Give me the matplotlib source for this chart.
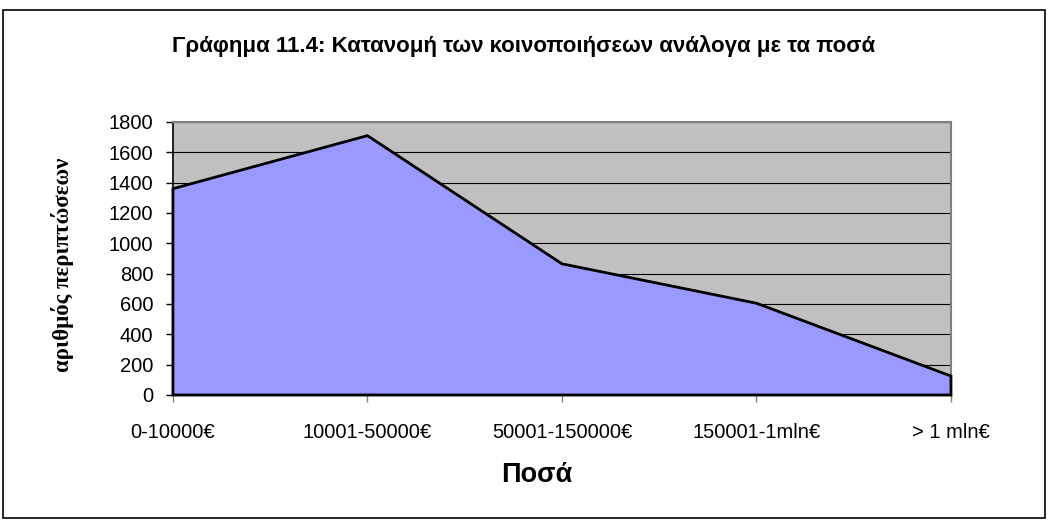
import numpy as np
import matplotlib.pyplot as plt
from matplotlib.patches import Rectangle

categories = ['0-10000€', '10001-50000€', '50001-150000€', '150001-1mln€', '> 1 mln€']
cases = [1360, 1710, 865, 605, 125]
y_ticks = [0, 200, 400, 600, 800, 1000, 1200, 1400, 1600, 1800]

title = 'Γράφημα 11.4: Κατανομή των κοινοποιήσεων ανάλογα με τα ποσά'

plt.rcParams['font.family'] = ['Liberation Sans', 'DejaVu Sans']

fig = plt.figure(figsize=(10.48, 5.2), dpi=100)
ax = fig.add_axes([0.165, 0.2404, 0.7424, 0.525])

x = np.arange(len(categories))
ax.set_facecolor('#C0C0C0')

# area with black outline (closed down to zero like Excel)
px = np.concatenate([[x[0]], x, [x[-1]]])
py = np.concatenate([[0], cases, [0]])
ax.fill(px, py, facecolor='#9999FF', edgecolor='black', linewidth=2.0,
        joinstyle='miter', zorder=3, clip_on=False)

ax.set_xlim(x[0], x[-1])
ax.set_ylim(0, 1800)
ax.set_yticks(y_ticks)
ax.set_xticks(x)
ax.set_xticklabels(categories)
ax.yaxis.grid(True, color='black', linewidth=0.8, zorder=1)
ax.set_axisbelow(True)

for side in ['top', 'right']:
    ax.spines[side].set_color('#808080')
    ax.spines[side].set_linewidth(1.5)
ax.spines['left'].set_color('black')
ax.spines['left'].set_linewidth(1.2)
ax.spines['bottom'].set_color('black')

ax.tick_params(axis='y', direction='out', length=5, width=1, labelsize=14.5, pad=9)
ax.tick_params(axis='x', direction='out', length=5, width=1, color='#808080',
               labelsize=14.5, pad=15)

# axis titles placed like the Excel chart
fig.text(62 / 1048, 0.49, 'αριθμός περιπτώσεων', rotation=90, ha='center', va='center',
         family=['Liberation Serif', 'DejaVu Serif'], fontweight='bold', fontsize=16.5)
fig.text(537 / 1048, (520 - 475) / 520, 'Ποσά', ha='center', va='center',
         fontweight='bold', fontsize=19.5)

fig.text(0.5, (520 - 46) / 520, title, ha='center', va='center', fontsize=16,
         fontweight='bold')

# outer chart border
fig.patches.append(Rectangle((0.003, 0.004), 0.994, 0.977, transform=fig.transFigure,
                             fill=False, edgecolor='black', linewidth=1.2))

fig.savefig('out.png', dpi=100)
